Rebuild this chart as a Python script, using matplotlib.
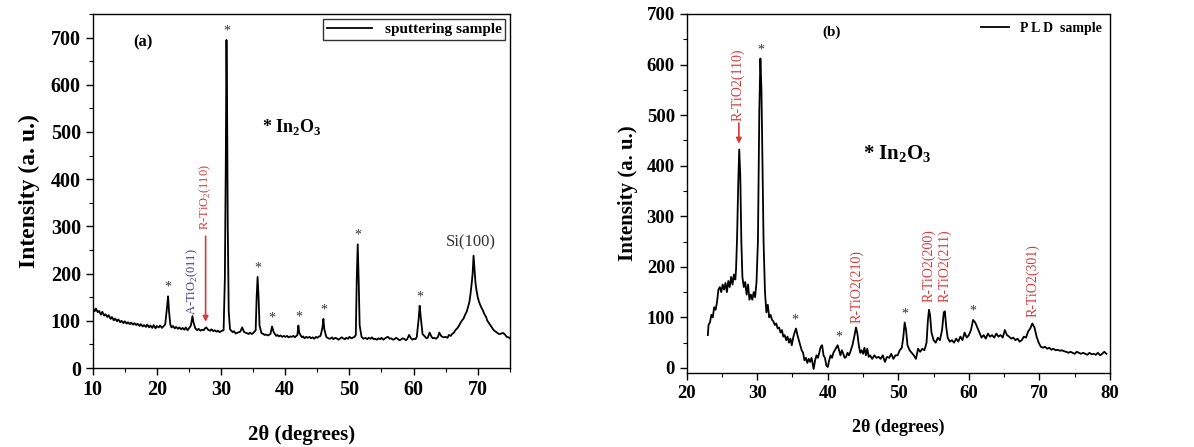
import matplotlib
matplotlib.use("Agg")
import matplotlib.pyplot as plt
from matplotlib.ticker import MultipleLocator

plt.rcParams['font.family'] = ['Liberation Serif', 'DejaVu Serif']
plt.rcParams['mathtext.fontset'] = 'custom'
plt.rcParams['mathtext.rm'] = 'Liberation Serif'
plt.rcParams['mathtext.bf'] = 'Liberation Serif:bold'

# (a) sputtering sample: 2-theta / intensity
sput_2theta = [
    10.0, 10.3, 10.5, 10.8, 11.0, 11.3, 11.5, 11.8, 12.0, 12.3, 12.5, 12.8, 13.0, 13.3, 13.5, 13.8,
    14.0, 14.3, 14.5, 14.8, 15.0, 15.3, 15.5, 15.8, 16.0, 16.3, 16.5, 16.8, 17.0, 17.3, 17.5, 17.8,
    18.0, 18.3, 18.5, 18.8, 19.0, 19.3, 19.5, 19.8, 20.0, 20.3, 20.5, 20.8, 21.0, 21.3, 21.6, 21.75,
    21.9, 22.1, 22.3, 22.5, 22.8, 23.0, 23.3, 23.5, 23.8, 24.0, 24.3, 24.5, 24.8, 25.0, 25.3, 25.55,
    25.7, 26.0, 26.3, 26.5, 26.8, 27.0, 27.3, 27.5, 27.7, 28.0, 28.3, 28.5, 28.8, 29.0, 29.3, 29.5,
    29.8, 30.0, 30.4, 30.6, 30.75, 30.85, 30.95, 31.05, 31.2, 31.4, 31.8, 32.0, 32.3, 32.6, 32.8, 33.0,
    33.3, 33.6, 34.0, 34.3, 34.5, 34.8, 35.0, 35.4, 35.55, 35.7, 35.85, 36.0, 36.3, 36.6, 36.8, 37.0,
    37.3, 37.7, 37.95, 38.2, 38.6, 38.8, 39.0, 39.3, 39.5, 39.8, 40.0, 40.3, 40.5, 40.8, 41.0, 41.3,
    41.5, 41.9, 42.05, 42.2, 42.6, 42.8, 43.0, 43.3, 43.5, 43.8, 44.0, 44.3, 44.5, 44.8, 45.0, 45.3,
    45.5, 45.8, 45.95, 46.1, 46.4, 46.7, 47.0, 47.3, 47.5, 47.8, 48.0, 48.3, 48.5, 48.8, 49.0, 49.3,
    49.5, 49.8, 50.0, 50.3, 50.5, 50.8, 51.0, 51.15, 51.3, 51.45, 51.6, 51.9, 52.2, 52.5, 52.8, 53.0,
    53.3, 53.5, 53.8, 54.0, 54.3, 54.5, 54.8, 55.0, 55.3, 55.5, 55.8, 56.0, 56.3, 56.5, 56.8, 57.0,
    57.3, 57.5, 57.8, 58.0, 58.3, 58.5, 58.8, 59.0, 59.3, 59.6, 59.8, 60.0, 60.3, 60.5, 60.8, 60.95,
    61.1, 61.4, 61.8, 62.0, 62.2, 62.5, 62.8, 63.0, 63.2, 63.5, 63.8, 64.0, 64.3, 64.5, 64.7, 65.0,
    65.3, 65.5, 65.8, 66.0, 66.3, 66.5, 66.8, 67.0, 67.3, 67.5, 67.8, 68.0, 68.3, 68.5, 68.7, 68.9,
    69.1, 69.2, 69.35, 69.5, 69.65, 69.8, 70.0, 70.2, 70.5, 70.8, 71.0, 71.3, 71.5, 71.8, 72.0, 72.3,
    72.5, 72.8, 73.0, 73.3, 73.5, 73.8, 74.0, 74.3, 74.5, 74.8, 75.0,
]
sput_counts = [
    128, 120, 126, 118, 121, 113, 119, 111, 114, 108, 112, 104, 108, 101, 105, 99,
    103, 97, 100, 95, 99, 94, 97, 93, 96, 92, 95, 91, 94, 89, 93, 88,
    91, 87, 92, 86, 90, 85, 91, 84, 89, 86, 90, 85, 88, 92, 130, 152,
    120, 92, 86, 89, 84, 87, 83, 86, 82, 85, 81, 86, 80, 84, 90, 110,
    97, 84, 80, 83, 79, 81, 80, 84, 86, 81, 79, 82, 78, 80, 77, 79,
    76, 78, 80, 190, 450, 695, 545, 300, 120, 82, 76, 78, 73, 75, 76, 77,
    86, 76, 74, 72, 75, 72, 74, 80, 150, 193, 150, 90, 74, 72, 70, 71,
    69, 72, 88, 76, 68, 70, 67, 69, 66, 68, 66, 68, 65, 67, 66, 68,
    65, 70, 90, 74, 65, 67, 63, 66, 64, 66, 63, 65, 62, 66, 64, 67,
    68, 85, 104, 82, 66, 63, 62, 65, 61, 64, 63, 60, 62, 65, 63, 61,
    64, 62, 66, 63, 64, 66, 70, 190, 262, 185, 90, 66, 62, 64, 61, 64,
    62, 65, 61, 62, 60, 63, 61, 64, 60, 62, 65, 66, 62, 63, 60, 61,
    64, 62, 59, 60, 63, 62, 59, 61, 70, 63, 60, 62, 61, 66, 105, 132,
    110, 72, 66, 63, 64, 75, 66, 63, 64, 62, 66, 75, 68, 66, 65, 66,
    64, 70, 68, 72, 75, 80, 84, 88, 95, 100, 105, 112, 120, 130, 140, 160,
    185, 200, 238, 210, 180, 165, 150, 140, 130, 122, 115, 108, 100, 94, 90, 84,
    80, 77, 75, 72, 72, 74, 74, 70, 66, 65, 63,
]

# (a) In2O3 reflections marked with stars
sput_star_2theta = [21.75, 30.85, 35.7, 37.95, 42.05, 45.95, 51.3, 60.95]
sput_star_counts = [152, 695, 193, 88, 90, 104, 262, 132]

# (b) PLD sample: 2-theta / intensity
pld_2theta = [
    23.0, 23.1, 23.3, 23.5, 23.7, 23.9, 24.1, 24.3, 24.5, 24.7, 24.9, 25.1, 25.3, 25.5, 25.7, 25.9,
    26.1, 26.3, 26.5, 26.7, 26.9, 27.0, 27.15, 27.3, 27.45, 27.6, 27.75, 27.9, 28.1, 28.3, 28.5, 28.7,
    28.9, 29.1, 29.3, 29.5, 29.7, 29.9, 30.1, 30.3, 30.45, 30.6, 30.75, 30.9, 31.1, 31.3, 31.5, 31.7,
    31.9, 32.1, 32.3, 32.5, 32.7, 32.9, 33.1, 33.3, 33.5, 33.7, 33.9, 34.1, 34.3, 34.5, 34.7, 34.9,
    35.1, 35.3, 35.5, 35.7, 35.9, 36.1, 36.3, 36.5, 36.7, 36.9, 37.1, 37.3, 37.5, 37.7, 37.9, 38.0,
    38.2, 38.4, 38.6, 38.8, 39.0, 39.2, 39.4, 39.6, 39.8, 40.0, 40.2, 40.4, 40.6, 40.8, 41.0, 41.2,
    41.4, 41.6, 41.8, 42.0, 42.2, 42.4, 42.6, 42.8, 43.0, 43.2, 43.5, 43.8, 44.0, 44.2, 44.4, 44.6,
    44.8, 45.0, 45.2, 45.4, 45.6, 45.8, 46.0, 46.3, 46.6, 46.9, 47.2, 47.5, 47.8, 48.1, 48.4, 48.7,
    49.0, 49.3, 49.6, 49.9, 50.2, 50.5, 50.7, 50.9, 51.1, 51.3, 51.6, 51.9, 52.2, 52.5, 52.8, 53.1,
    53.4, 53.7, 54.0, 54.2, 54.35, 54.5, 54.7, 55.0, 55.3, 55.6, 55.9, 56.2, 56.45, 56.6, 56.8, 57.0,
    57.3, 57.6, 57.9, 58.2, 58.5, 58.8, 59.1, 59.4, 59.7, 60.0, 60.3, 60.6, 60.9, 61.2, 61.5, 61.8,
    62.1, 62.4, 62.7, 63.0, 63.3, 63.6, 63.9, 64.2, 64.5, 64.8, 65.1, 65.4, 65.7, 66.0, 66.3, 66.6,
    66.9, 67.2, 67.5, 67.8, 68.1, 68.4, 68.7, 69.0, 69.3, 69.6, 69.9, 70.2, 70.5, 70.8, 71.1, 71.4,
    71.7, 72.0, 72.3, 72.6, 72.9, 73.2, 73.5, 73.8, 74.1, 74.4, 74.7, 75.0, 75.3, 75.6, 75.9, 76.2,
    76.5, 76.8, 77.1, 77.4, 77.7, 78.0, 78.3, 78.6, 78.9, 79.2, 79.5,
]
pld_counts = [
    65, 85, 90, 105, 100, 120, 115, 130, 155, 160, 150, 165, 155, 168, 150, 172,
    160, 180, 165, 185, 175, 195, 260, 360, 432, 380, 250, 180, 160, 170, 145, 165,
    135, 145, 135, 150, 140, 170, 250, 510, 612, 550, 400, 250, 150, 110, 125, 100,
    105, 95, 92, 85, 88, 78, 80, 70, 75, 62, 65, 55, 62, 50, 58, 45,
    60, 70, 78, 65, 55, 45, 35, 30, 15, 20, 10, 18, 12, 20, 5, -2,
    15, 25, 20, 30, 42, 45, 25, 20, 5, 2, 15, 25, 20, 30, 35, 40,
    45, 35, 25, 35, 28, 20, 22, 30, 25, 32, 45, 65, 80, 68, 45, 30,
    35, 28, 40, 25, 38, 22, 25, 18, 25, 20, 22, 18, 25, 12, 22, 20,
    28, 18, 25, 25, 35, 40, 60, 90, 75, 45, 35, 30, 25, 18, 38, 32,
    38, 35, 50, 95, 115, 105, 70, 55, 50, 60, 55, 75, 110, 112, 80, 60,
    52, 55, 50, 58, 52, 62, 55, 70, 60, 65, 75, 95, 90, 80, 70, 60,
    65, 58, 68, 62, 65, 60, 68, 62, 65, 60, 75, 65, 62, 58, 60, 55,
    58, 52, 55, 62, 60, 72, 78, 88, 80, 62, 50, 42, 40, 42, 38, 40,
    36, 38, 35, 36, 34, 35, 33, 32, 30, 32, 30, 28, 32, 30, 28, 30,
    28, 26, 30, 27, 28, 26, 30, 25, 28, 32, 28,
]

pld_star_2theta = [30.45, 35.4, 41.5, 50.9, 60.6]
pld_star_counts = [612, 78, 45, 90, 95]

# rutile TiO2 reflections labelled in (b): position, label bottom
pld_rutile_2theta = [44.1, 54.3, 56.6, 69.1]
pld_rutile_labels = ['R-TiO2(210)', 'R-TiO2(200)', 'R-TiO2(211)', 'R-TiO2(301)']
pld_rutile_base = [88, 130, 130, 100]

red = '#d23c3c'

fig = plt.figure(figsize=(11.94, 4.47), dpi=100)
axa = fig.add_axes([0.0776, 0.1767, 0.3494, 0.792])
axb = fig.add_axes([0.5751, 0.1655, 0.3545, 0.8032])


def style_axes(ax, fs):
    ax.tick_params(which='major', direction='out', length=5, width=1, labelsize=fs)
    ax.tick_params(which='minor', direction='out', length=3, width=0.8)
    for lab in ax.get_xticklabels() + ax.get_yticklabels():
        lab.set_fontweight('bold')
    for sp in ax.spines.values():
        sp.set_linewidth(1.0)


# ---- panel (a) ----
axa.plot(sput_2theta, sput_counts, color='black', lw=1.3, label='sputtering sample')
axa.set_xlim(10, 75)
axa.set_ylim(0, 750)
axa.xaxis.set_major_locator(MultipleLocator(10))
axa.xaxis.set_minor_locator(MultipleLocator(5))
axa.yaxis.set_major_locator(MultipleLocator(100))
axa.yaxis.set_minor_locator(MultipleLocator(50))
style_axes(axa, 14.5)
axa.set_xlabel('2θ (degrees)', fontsize=15, fontweight='bold', labelpad=18)
axa.set_ylabel('Intensity (a. u.)', fontsize=17, fontweight='bold', labelpad=8)

for x, y in zip(sput_star_2theta, sput_star_counts):
    axa.text(x, y + 5, '*', ha='center', va='bottom', fontsize=10, color='#333333')

axa.text(17.8, 690, '(a)', ha='center', va='center', fontsize=12, fontweight='bold')
axa.text(41.0, 510, r'* In$_\mathbf{2}$O$_\mathbf{3}$', ha='center', va='center',
         fontsize=13, fontweight='bold')
axa.text(25.6, 112, r'A-TiO$_2$(011)', rotation=90, ha='center', va='bottom',
         fontsize=9, color='#3a3a9a')
axa.text(27.5, 292, r'R-TiO$_2$(110)', rotation=90, ha='center', va='bottom',
         fontsize=9, color=red)
axa.annotate('', xy=(27.6, 92), xytext=(27.6, 285),
             arrowprops=dict(arrowstyle='-|>', color=red, lw=1.2, mutation_scale=8))
axa.text(69.0, 250, 'Si(100)', ha='center', va='bottom', fontsize=12, color='#333333')

leg = axa.legend(loc='upper right', frameon=True, fancybox=False,
                 handlelength=3.0, borderpad=0.25, borderaxespad=0.3,
                 prop={'weight': 'bold', 'size': 11})
leg.get_frame().set_edgecolor('black')
leg.get_frame().set_linewidth(1.0)

# ---- panel (b) ----
axb.plot(pld_2theta, pld_counts, color='black', lw=1.3, label='P L D  sample')
axb.set_xlim(20, 80)
axb.set_ylim(-10, 700)
axb.xaxis.set_major_locator(MultipleLocator(10))
axb.xaxis.set_minor_locator(MultipleLocator(5))
axb.yaxis.set_major_locator(MultipleLocator(100))
axb.yaxis.set_minor_locator(MultipleLocator(50))
style_axes(axb, 13.5)
axb.set_xlabel('2θ (degrees)', fontsize=13, fontweight='bold', labelpad=12)
axb.set_ylabel('Intensity (a. u.)', fontsize=15, fontweight='bold', labelpad=6)

for x, y in zip(pld_star_2theta, pld_star_counts):
    axb.text(x, y + 4, '*', ha='center', va='bottom', fontsize=10, color='#333333')

axb.text(40.5, 664, '(b)', ha='center', va='center', fontsize=11, fontweight='bold')
axb.text(49.8, 422, r'* In$_\mathbf{2}$O$_\mathbf{3}$', ha='center', va='center',
         fontsize=15, fontweight='bold')
axb.text(27.2, 488, 'R-TiO2(110)', rotation=90, ha='center', va='bottom',
         fontsize=10, color=red)
axb.annotate('', xy=(27.4, 438), xytext=(27.4, 490),
             arrowprops=dict(arrowstyle='-|>', color=red, lw=1.2, mutation_scale=8))
for x, lab, y0 in zip(pld_rutile_2theta, pld_rutile_labels, pld_rutile_base):
    axb.text(x, y0, lab, rotation=90, ha='center', va='bottom', fontsize=10, color=red)

axb.legend(loc='upper right', frameon=False, handlelength=2.0, borderaxespad=0.2,
           prop={'weight': 'bold', 'size': 10})

fig.savefig('out.png', dpi=100)
